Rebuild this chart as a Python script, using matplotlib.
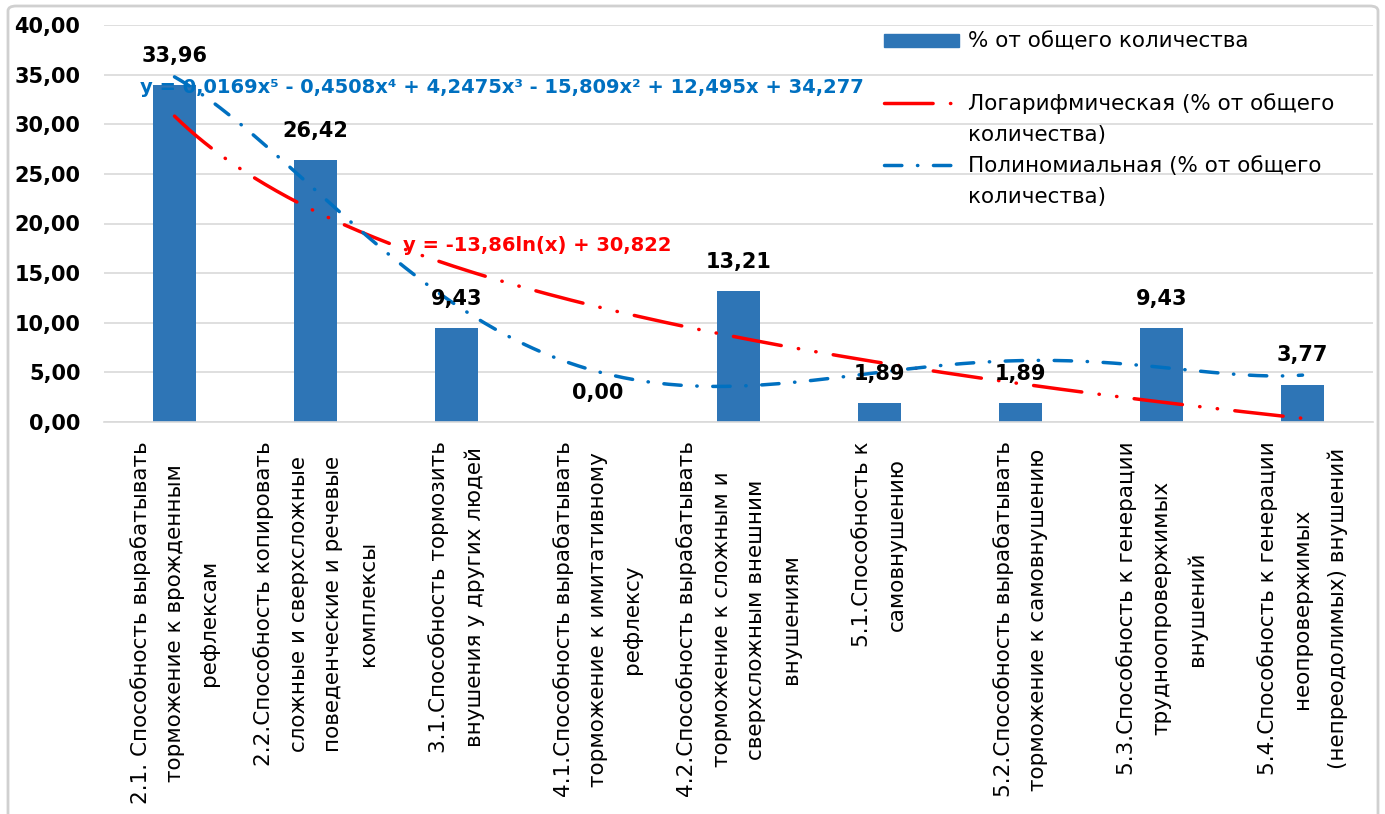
import matplotlib.pyplot as plt
import numpy as np
from matplotlib.lines import Line2D
from matplotlib.patches import Patch, FancyBboxPatch

plt.rcParams['font.family'] = ['DejaVu Sans']

# данные диаграммы
categories = [
    '2.1. Способность вырабатывать\nторможение к врожденным\nрефлексам',
    '2.2.Способность копировать\nсложные и сверхсложные\nповеденческие и речевые\nкомплексы',
    '3.1.Способность тормозить\nвнушения у других людей',
    '4.1.Способность вырабатывать\nторможение к имитативному\nрефлексу',
    '4.2.Способность вырабатывать\nторможение к сложным и\nсверхсложным внешним\nвнушениям',
    '5.1.Способность к\nсамовнушению',
    '5.2.Способность вырабатывать\nторможение к самовнушению',
    '5.3.Способность к генерации\nтрудноопровержимых\nвнушений',
    '5.4.Способность к генерации\nнеопровержимых\n(непреодолимых) внушений',
]
values = [33.96, 26.42, 9.43, 0.00, 13.21, 1.89, 1.89, 9.43, 3.77]
y_ticks = [0, 5, 10, 15, 20, 25, 30, 35, 40]
y_tick_labels = ['0,00', '5,00', '10,00', '15,00', '20,00', '25,00', '30,00', '35,00', '40,00']
legend_labels = ['% от общего количества', ' ',
                 'Логарифмическая (% от общего', 'количества)',
                 'Полиномиальная (% от общего', 'количества)']
poly_eq = 'y = 0,0169x\u2075 - 0,4508x\u2074 + 4,2475x\u00b3 - 15,809x\u00b2 + 12,495x + 34,277'
log_eq = 'y = -13,86ln(x) + 30,822'

bar_color = '#2E75B6'
red = '#FF0000'
blue = '#0070C0'
red_dashes = (14, 5, 0.1, 5, 0.1, 5)
blue_dashes = (5, 4.5, 0.1, 4.5)

W, H = 1385, 814
fig = plt.figure(figsize=(W / 100, H / 100), dpi=100)
ax = fig.add_axes([104 / W, 1 - 422 / H, (1373 - 104) / W, (422 - 25) / H])

x = np.arange(1, len(values) + 1)
ax.bar(x, values, width=0.31, color=bar_color, zorder=2)

# линии тренда (подбор по данным, как в Excel)
xs = np.linspace(1, len(values), 300)
pc = np.polyfit(x, values, 5)
lc = np.polyfit(np.log(x), values, 1)
ax.plot(xs, np.polyval(lc, np.log(xs)), color=red, lw=2.5, dashes=red_dashes,
        dash_capstyle='round', zorder=3)
ax.plot(xs, np.polyval(pc, xs), color=blue, lw=2.5, dashes=blue_dashes,
        dash_capstyle='round', zorder=3)

for xi, v in zip(x, values):
    ax.annotate(f'{v:.2f}'.replace('.', ','), (xi, v), xytext=(0, 21),
                textcoords='offset points', ha='center', va='center',
                fontsize=15, fontweight='bold', zorder=5)

ax.text(0.755, 33.7, poly_eq, color=blue, fontsize=14, fontweight='bold',
        va='center', ha='left', zorder=6)
ax.text(2.62, 17.8, log_eq, color=red, fontsize=14, fontweight='bold',
        va='center', ha='left', zorder=6)

ax.set_xlim(0.5, len(values) + 0.5)
ax.set_ylim(0, 40)
ax.set_yticks(y_ticks)
ax.set_yticklabels(y_tick_labels, fontsize=15, fontweight='bold')
ax.set_xticks(x)
ax.set_xticklabels(categories, rotation=90, ha='center', va='top',
                   multialignment='center', fontsize=15.5, linespacing=1.9)
ax.tick_params(axis='both', length=0)
ax.tick_params(axis='x', pad=14)
ax.tick_params(axis='y', pad=17)
ax.yaxis.grid(True, color='#D9D9D9', lw=1.2)
ax.set_axisbelow(True)
for s in ['top', 'right', 'left']:
    ax.spines[s].set_visible(False)
ax.spines['bottom'].set_color('#D9D9D9')
ax.spines['bottom'].set_linewidth(1.2)

handles = [
    Patch(color=bar_color),
    Line2D([], [], color='none'),
    Line2D([], [], color=red, lw=2.5, dashes=red_dashes, dash_capstyle='round'),
    Line2D([], [], color='none'),
    Line2D([], [], color=blue, lw=2.5, dashes=blue_dashes, dash_capstyle='round'),
    Line2D([], [], color='none'),
]
fig.legend(handles, legend_labels, loc='upper left',
           bbox_to_anchor=(884 / W, 1 - 32 / H), frameon=False, fontsize=15.5,
           handlelength=3.5, handleheight=0.6, handletextpad=0.4,
           labelspacing=0.5, borderpad=0, borderaxespad=0)

fig.patches.append(FancyBboxPatch((8 / W, -10 / H), (1378 - 8) / W, (818) / H,
                                  boxstyle='round,pad=0,rounding_size=0.006',
                                  transform=fig.transFigure, fill=False,
                                  ec='#D0D0D0', lw=2))

fig.savefig('out.png', dpi=100)
